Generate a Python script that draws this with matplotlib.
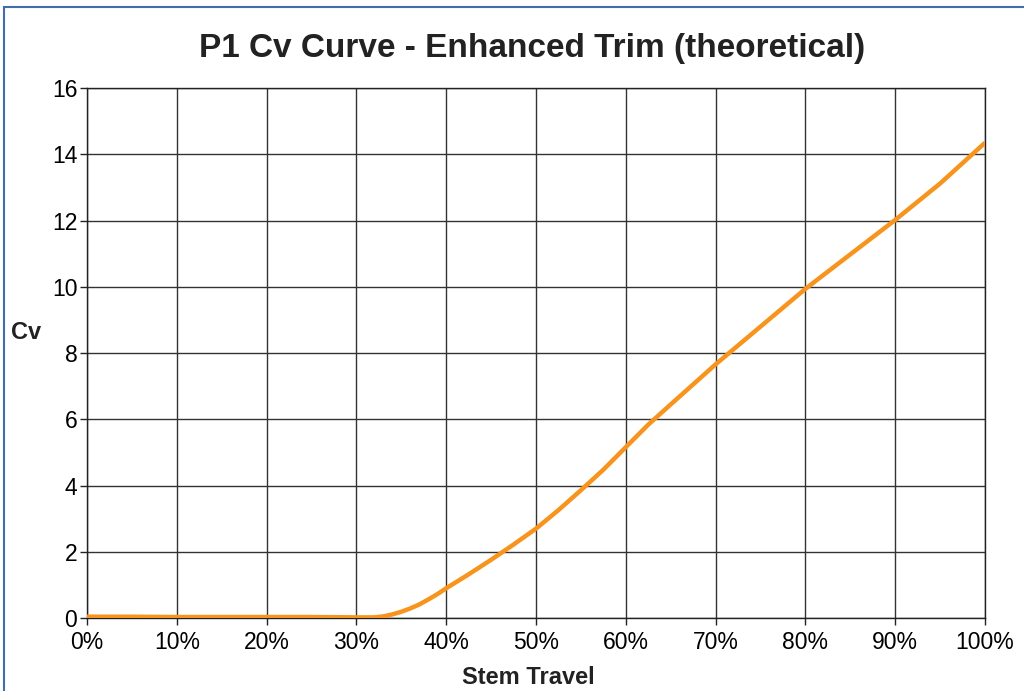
import matplotlib
matplotlib.use('Agg')
import matplotlib.pyplot as plt
import matplotlib.ticker as ticker
from matplotlib.patches import Rectangle

plt.rcParams['font.family'] = ['Liberation Sans', 'DejaVu Sans']

# stem travel (%) and Cv
travel = [0, 5, 10, 15, 20, 25, 30, 32, 33, 34, 35, 36, 37, 38, 39, 40, 42.5,
          45, 47.5, 50, 52.5, 55, 57.5, 60, 62.5, 65, 70, 75, 80, 85, 90, 95, 100]
cv = [0.04, 0.04, 0.03, 0.03, 0.03, 0.03, 0.02, 0.02, 0.05, 0.11, 0.19, 0.29,
      0.41, 0.56, 0.72, 0.9, 1.32, 1.76, 2.22, 2.7, 3.26, 3.86, 4.48, 5.16,
      5.84, 6.45, 7.66, 8.8, 9.94, 10.98, 12.02, 13.12, 14.35]
xticks = list(range(0, 101, 10))
yticks = list(range(0, 17, 2))

fig = plt.figure(figsize=(10.24, 6.91), dpi=100)
ax = fig.add_axes([0.085, 0.1056, 0.877, 0.767])

# blue frame (only left/top edges show)
fig.patches.append(Rectangle((4 / 1024, -0.1), 1.2, 1 - 7 / 691 + 0.1,
                             transform=fig.transFigure, fill=False,
                             edgecolor='#3E6FA9', linewidth=1.5))

ax.plot(travel, cv, color='#F7941D', linewidth=3.2, solid_capstyle='butt',
        solid_joinstyle='round', zorder=3)

ax.set_xlim(0, 100)
ax.set_ylim(0, 16)
ax.set_xticks(xticks)
ax.set_yticks(yticks)
ax.xaxis.set_major_formatter(ticker.FuncFormatter(lambda v, p: '%d%%' % v))
ax.grid(True, color='#333333', linewidth=1.0)
ax.set_axisbelow(True)
for s in ax.spines.values():
    s.set_color('#222222')
    s.set_linewidth(1.0)
ax.tick_params(axis='both', labelsize=16.5, length=5, width=1, color='#222222')
ax.tick_params(axis='y', pad=2)
ax.tick_params(axis='x', pad=4)

fig.text(0.52, 1 - 49 / 691, 'P1 Cv Curve - Enhanced Trim (theoretical)',
         fontsize=24, fontweight='bold', color='#222222', ha='center', va='center')
ax.set_xlabel('Stem Travel', fontsize=17, fontweight='bold', color='#222222')
ax.xaxis.set_label_coords((528 - 87) / 898, -(677 - 618) / 530)
ax.xaxis.label.set_va('center')
ax.set_ylabel('Cv', fontsize=17, fontweight='bold', color='#222222',
              rotation=0, ha='center', va='center')
ax.yaxis.set_label_coords(-0.068, 0.538)

plt.savefig('out.png', dpi=100)
